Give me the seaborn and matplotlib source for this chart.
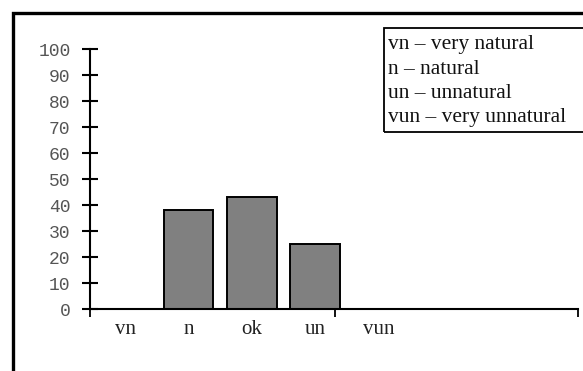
import matplotlib
matplotlib.use('Agg')
import matplotlib.pyplot as plt
from matplotlib.patches import Rectangle
import pandas as pd
import seaborn as sns

# ratings and share of answers (%)
categories = ['vn', 'n', 'ok', 'un', 'vun']
percent = [0, 38, 43, 25, 0]
y_ticks = [0, 10, 20, 30, 40, 50, 60, 70, 80, 90, 100]
legend_lines = ['vn \u2013 very natural', 'n \u2013 natural',
                'un \u2013 unnatural', 'vun \u2013 very unnatural']

df = pd.DataFrame({'rating': categories, 'percent': percent})

sns.set_style('white')
plt.rcParams['font.family'] = ['Liberation Serif', 'DejaVu Serif']

W, H = 583, 371
fig = plt.figure(figsize=(W / 100, H / 100), dpi=100)
ax = fig.add_axes([90 / W, 1 - 309 / H, (578 - 90) / W, 260 / H])

sns.barplot(data=df, x='rating', y='percent', order=categories,
            color='#808080', saturation=1, width=0.78,
            edgecolor='black', linewidth=1.4, ax=ax)

ax.set_ylim(0, 100)
ax.set_xlim(-0.556, 7.15)
ax.set_xlabel('')
ax.set_ylabel('')

for side in ['top', 'right']:
    ax.spines[side].set_visible(False)
for side in ['left', 'bottom']:
    ax.spines[side].set_color('black')
    ax.spines[side].set_linewidth(1.5)

ax.set_yticks(y_ticks)
ax.set_yticklabels([str(v) for v in y_ticks], family='Liberation Mono',
                   fontsize=13, color='#555555')
ax.tick_params(axis='y', direction='inout', length=12, width=1.5,
               color='black', pad=8, left=True)

ax.set_xticks(range(len(categories)))
ax.set_xticklabels(categories, fontsize=15, color='#222222')
ax.tick_params(axis='x', which='major', length=0, pad=8)
ax.set_xticks([-0.556, 3.32, 7.15], minor=True)
ax.tick_params(axis='x', which='minor', direction='out', length=6,
               width=1.3, color='black', bottom=True)

# legend box (runs off the right edge as in the source)
fig.add_artist(Rectangle((384 / W, 1 - 132 / H), 0.4, 104 / H,
                         transform=fig.transFigure, fill=False,
                         edgecolor='black', linewidth=1.3))
for i, line in enumerate(legend_lines):
    fig.text(388 / W, 1 - (45 + 24 * i) / H, line, fontsize=15.5,
             va='center', ha='left', color='#111111')

# outer frame
fig.add_artist(Rectangle((13 / W, -0.2), 1.2, 1.2 - 13 / H,
                         transform=fig.transFigure, fill=False,
                         edgecolor='black', linewidth=2.4))

fig.savefig('out.png', dpi=100)
plt.close(fig)
